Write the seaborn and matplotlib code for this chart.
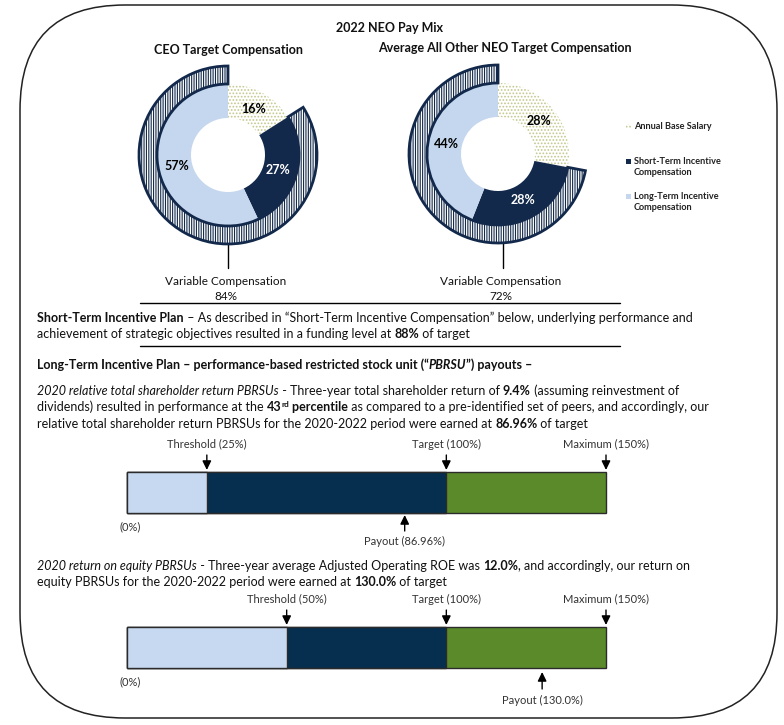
import numpy as np
import pandas as pd
import seaborn as sns
import matplotlib
matplotlib.use('Agg')
import matplotlib.pyplot as plt
from matplotlib.patches import FancyBboxPatch, Rectangle
from matplotlib.font_manager import FontProperties
from matplotlib import transforms

sns.set_theme(style='white')
FONT = 'Lato'
plt.rcParams['font.family'] = [FONT, 'DejaVu Sans']
plt.rcParams['hatch.linewidth'] = 0.8

# ---- data ----
comp_labels = ['Annual Base Salary', 'Short-Term Incentive\nCompensation',
               'Long-Term Incentive\nCompensation']
ceo_mix = [16, 27, 57]
neo_mix = [28, 28, 44]
variable_pct = [84, 72]

level_names = ['Threshold', 'Target', 'Maximum']
tsr_levels = [25, 100, 150]
tsr_payout = 86.96
roe_levels = [50, 100, 150]
roe_payout = 130.0

NAVY = '#13294b'
LIGHT = '#c5d7ee'
DOT = '#c3c88e'
BAR_NAVY = '#062e4f'
BAR_LIGHT = '#c6d9f0'
GREEN = '#5b8a2a'
TXT = '#111111'

W, H = 784, 725
fig = plt.figure(figsize=(W / 100, H / 100), dpi=100)
ax0 = fig.add_axes([0, 0, 1, 1])
ax0.set_xlim(0, W)
ax0.set_ylim(H, 0)
ax0.axis('off')


def px_axes(x0, y0, w, h):
    return fig.add_axes([x0 / W, 1 - (y0 + h) / H, w / W, h / H])


# outer frame
ax0.add_patch(FancyBboxPatch((20, 5), 757, 713,
                             boxstyle='round,pad=0,rounding_size=105',
                             fill=False, lw=1.1, ec='#222222'))

ax0.text(390, 28, '2022 NEO Pay Mix', ha='center', va='center',
         fontsize=9, weight='bold', color=TXT)
ax0.text(229, 50, 'CEO Target Compensation', ha='center', va='center',
         fontsize=9, weight='bold', color=TXT)
ax0.text(505, 48, 'Average All Other NEO Target Compensation', ha='center',
         va='center', fontsize=9, weight='bold', color=TXT)


def donut(cx, cy, mix, var_pct, line_x):
    ax = px_axes(cx - 100, cy - 100, 200, 200)
    wedges, _, autos = ax.pie(mix, radius=71, startangle=90, counterclock=False,
                              colors=['white', NAVY, LIGHT],
                              autopct='%.0f%%', pctdistance=0.74,
                              wedgeprops=dict(width=34, linewidth=0))
    wedges[0].set_hatch('.....')
    wedges[0].set_edgecolor(DOT)
    for t, c in zip(autos, ['black', 'white', 'black']):
        t.set_color(c)
        t.set_fontsize(9)
        t.set_fontweight('bold')
    ring, _ = ax.pie([mix[0], sum(mix[1:])], radius=89, startangle=90,
                     counterclock=False, wedgeprops=dict(width=18))
    ring[0].set_visible(False)
    ring[1].set_facecolor('white')
    ring[1].set_edgecolor(NAVY)
    ring[1].set_hatch('|||||||')
    ring[1].set_linewidth(2)
    ax.set_xlim(-100, 100)
    ax.set_ylim(-100, 100)
    ax.set_aspect('equal')
    ax.axis('off')
    ax0.plot([line_x, line_x], [cy + 88, 268], color='black', lw=1)
    ax0.text(line_x - 2, 281, 'Variable Compensation', ha='center', va='center',
             fontsize=8.5, color=TXT)
    ax0.text(line_x - 2, 296, f'{var_pct}%', ha='center', va='center',
             fontsize=8.5, color=TXT)


donut(228, 155, ceo_mix, variable_pct[0], 228)
donut(498, 154, neo_mix, variable_pct[1], 503)

# legend
leg_y = [126, 161, 196]
leg_style = [dict(fc='white', ec=DOT, hatch='.....', lw=0),
             dict(fc=NAVY, lw=0), dict(fc=LIGHT, lw=0)]
for y, lab, st in zip(leg_y, comp_labels, leg_style):
    ax0.add_patch(Rectangle((626, y - 2.5), 5, 5, **st))
    ax0.text(634, y - 4, lab, ha='left', va='top', fontsize=6.6,
             weight='bold', color='#222222', linespacing=1.35)

ax0.plot([140, 620], [303, 303], color='black', lw=1)
ax0.plot([140, 620], [346, 346], color='black', lw=1)

# rich text lines
renderer = fig.canvas.get_renderer()


def runs(x, y, parts, size=9.0):
    for txt, st in parts:
        fp = FontProperties(family=FONT, size=size * (0.65 if 's' in st else 1),
                            weight='bold' if 'b' in st else 'normal',
                            style='italic' if 'i' in st else 'normal')
        ax0.text(x, y - (4 if 's' in st else 0), txt, fontproperties=fp,
                 va='baseline', ha='left', color=TXT)
        w1 = renderer.get_text_width_height_descent('x' + txt + 'x', fp, ismath=False)[0]
        w0 = renderer.get_text_width_height_descent('xx', fp, ismath=False)[0]
        x += w1 - w0


runs(37, 322, [('Short-Term Incentive Plan', 'b'),
               (' \u2013 As described in \u201cShort-Term Incentive Compensation\u201d below, '
                'underlying performance and', '')])
runs(37, 338, [('achievement of strategic objectives resulted in a funding level at ', ''),
               ('88%', 'b'), (' of target', '')])
runs(37, 369, [('Long-Term Incentive Plan \u2013 performance-based restricted stock unit (\u201c', 'b'),
               ('PBRSU', 'bi'), ('\u201d) payouts \u2013', 'b')])
runs(37, 395, [('2020 relative total shareholder return PBRSUs', 'i'),
               (' - Three-year total shareholder return of ', ''), ('9.4%', 'b'),
               (' (assuming reinvestment of', '')])
runs(37, 411, [('dividends) resulted in performance at the ', ''), ('43', 'b'),
               ('rd', 'bs'), (' percentile', 'b'),
               (' as compared to a pre-identified set of peers, and accordingly, our', '')])
runs(37, 428, [('relative total shareholder return PBRSUs for the 2020-2022 period were earned at ', ''),
               ('86.96%', 'b'), (' of target', '')])
runs(37, 570, [('2020 return on equity PBRSUs', 'i'),
               (' - Three-year average Adjusted Operating ROE was ', ''), ('12.0%', 'b'),
               (', and accordingly, our return on', '')])
runs(37, 586, [('equity PBRSUs for the 2020-2022 period were earned at ', ''),
               ('130.0%', 'b'), (' of target', '')])

# payout bars
BX0, BX1 = 127, 606
scale = (BX1 - BX0) / 150
ARW = dict(arrowstyle='-|>,head_width=0.22,head_length=0.45',
           color='black', lw=1, shrinkA=0, shrinkB=0)
SMALL = dict(fontsize=8, color='#333333')


def payout_bar(top, levels, payout, name):
    pad = 3
    ax = px_axes(BX0 - pad * scale, top - 4, (150 + 2 * pad) * scale, 49)
    ends = [levels[2], levels[1], levels[0]]
    cols = [GREEN, BAR_NAVY, BAR_LIGHT]
    for e, c in zip(ends, cols):
        sns.barplot(x=[e], y=[name], orient='h', color=c, saturation=1,
                    width=41 / 49 * 1.2, edgecolor='#2b2b2b', linewidth=1, ax=ax)
    ax.set_xlim(-pad, 150 + pad)
    ax.set_ylim(0.6, -0.6)
    ax.axis('off')
    bl = transforms.blended_transform_factory(ax.transData, ax0.transData)
    for lv, nm in zip(levels, level_names):
        ax0.text(lv, top - 28, f'{nm} ({lv}%)', transform=bl, ha='center',
                 va='center', **SMALL)
        ax0.annotate('', xy=(lv, top - 2), xycoords=bl, xytext=(lv, top - 17),
                     textcoords=bl, arrowprops=ARW)
    ax0.text(-2.5, top + 55, '(0%)', transform=bl, ha='left', va='center', **SMALL)
    return bl


bl1 = payout_bar(472, tsr_levels, tsr_payout, 'tsr')
ax0.annotate('', xy=(tsr_payout, 515), xycoords=bl1, xytext=(tsr_payout, 531),
             textcoords=bl1, arrowprops=ARW)
ax0.text(tsr_payout, 541, f'Payout ({tsr_payout:.2f}%)', transform=bl1,
         ha='center', va='center', **SMALL)

bl2 = payout_bar(627, roe_levels, roe_payout, 'roe')
ax0.annotate('', xy=(roe_payout, 672), xycoords=bl2, xytext=(roe_payout, 689),
             textcoords=bl2, arrowprops=ARW)
ax0.text(roe_payout, 700, f'Payout ({roe_payout:.1f}%)', transform=bl2,
         ha='center', va='center', **SMALL)

fig.savefig('out.png', dpi=100)
